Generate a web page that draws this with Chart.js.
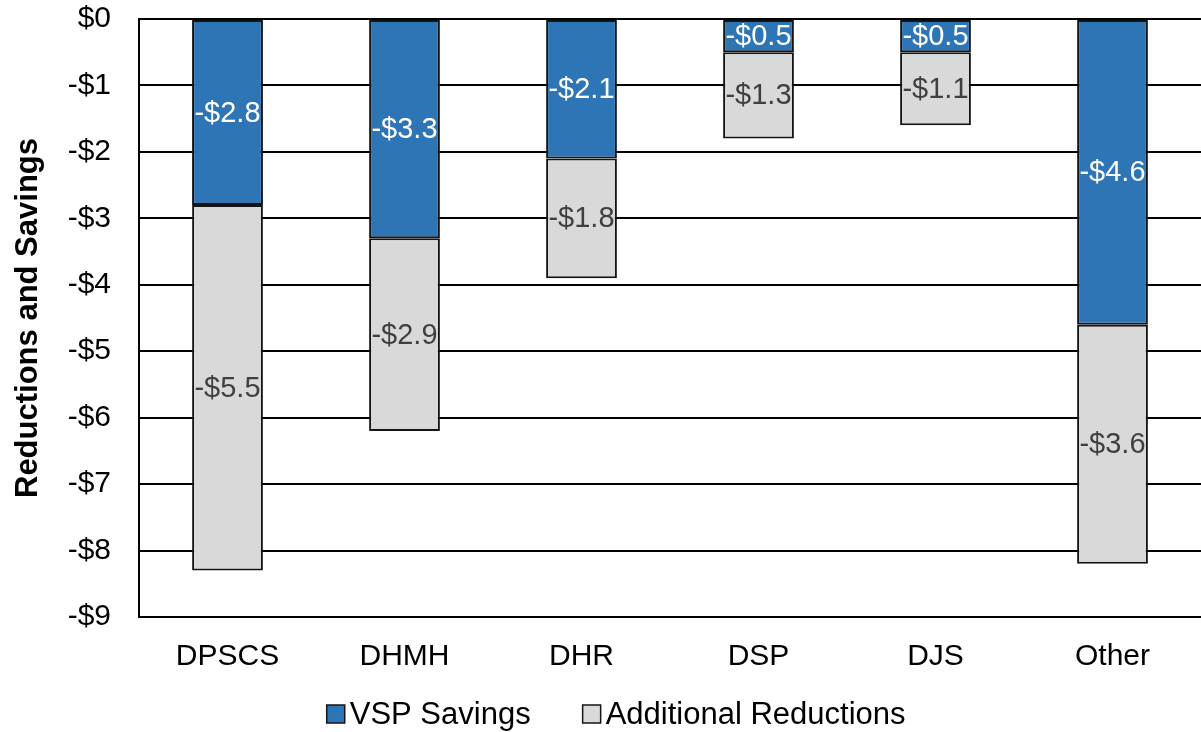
<!DOCTYPE html>
<html>
<head>
<meta charset="utf-8">
<script src="https://cdn.jsdelivr.net/npm/chart.js@4.4.1/dist/chart.umd.min.js"></script>
<style>
  html, body { margin: 0; padding: 0; background: #ffffff; }
  #wrap { width: 1201px; height: 732px; position: relative; }
</style>
</head>
<body>
<div id="wrap"><canvas id="chart" width="1201" height="732"></canvas></div>
<script>
// Agencies along the x axis
const categories = ['DPSCS', 'DHMH', 'DHR', 'DSP', 'DJS', 'Other'];
// Values in $ millions (negative = reduction)
const vspSavings = [-2.8, -3.3, -2.1, -0.5, -0.5, -4.6];
const additionalReductions = [-5.5, -2.9, -1.8, -1.3, -1.1, -3.6];
const seriesNames = ['VSP Savings', 'Additional Reductions'];
const yTickValues = [0, -1, -2, -3, -4, -5, -6, -7, -8, -9];
const yAxisTitle = 'Reductions and Savings';

const FONT = 'Arial, "Liberation Sans", sans-serif';
const BLUE = '#2E75B6';
const GREY = '#D9D9D9';
const EDGE = '#141414';

const money = v => (v === 0 ? '$0' : '-$' + Math.abs(v));
const moneyLabel = v => (v < 0 ? '-$' : '$') + Math.abs(v).toFixed(1);

// Writes each segment's value in the middle of the segment
const segmentLabels = {
  id: 'segmentLabels',
  afterDatasetsDraw(chart) {
    const ctx = chart.ctx;
    const colors = ['#ffffff', '#404040'];
    ctx.save();
    ctx.font = '29px ' + FONT;
    ctx.textAlign = 'center';
    ctx.textBaseline = 'middle';
    chart.data.datasets.forEach((ds, i) => {
      const meta = chart.getDatasetMeta(i);
      ctx.fillStyle = colors[i];
      meta.data.forEach((bar, j) => {
        const p = bar.getProps(['x', 'y', 'base'], true);
        ctx.fillText(moneyLabel(ds.data[j]), p.x, (p.y + p.base) / 2 + 1);
      });
    });
    ctx.restore();
  }
};

// Compact legend below the axis: small square swatch right next to its text
const swatchLegend = {
  id: 'swatchLegend',
  afterDraw(chart) {
    const ctx = chart.ctx;
    const box = 18, gapText = 5, gapItem = 52;
    ctx.save();
    ctx.font = '31px ' + FONT;
    const items = chart.data.datasets.map(ds => ({
      text: ds.label, fill: ds.backgroundColor, w: ctx.measureText(ds.label).width
    }));
    const total = items.reduce((s, it) => s + box + gapText + it.w, 0) + gapItem * (items.length - 1);
    let x = chart.width * 0.513 - total / 2;
    const cy = 714;
    ctx.textBaseline = 'middle';
    ctx.textAlign = 'left';
    items.forEach(it => {
      ctx.fillStyle = it.fill;
      ctx.fillRect(x, cy - box / 2, box, box);
      ctx.strokeStyle = EDGE;
      ctx.lineWidth = 1.5;
      ctx.strokeRect(x, cy - box / 2, box, box);
      ctx.fillStyle = '#000000';
      ctx.fillText(it.text, x + box + gapText, cy + 1);
      x += box + gapText + it.w + gapItem;
    });
    ctx.restore();
  }
};

new Chart(document.getElementById('chart'), {
  type: 'bar',
  data: {
    labels: categories,
    datasets: [
      {
        label: seriesNames[0], data: vspSavings,
        backgroundColor: BLUE, borderColor: EDGE, borderWidth: 2, borderSkipped: false,
        barPercentage: 0.4, categoryPercentage: 1.0
      },
      {
        label: seriesNames[1], data: additionalReductions,
        backgroundColor: GREY, borderColor: EDGE, borderWidth: 2, borderSkipped: false,
        barPercentage: 0.4, categoryPercentage: 1.0
      }
    ]
  },
  options: {
    responsive: false,
    devicePixelRatio: 1,
    animation: false,
    layout: { padding: { left: 0, right: 0, top: 0, bottom: 52 } },
    plugins: {
      legend: { display: false },
      tooltip: { enabled: false }
    },
    scales: {
      x: {
        stacked: true,
        grid: { display: false, drawTicks: false },
        border: { display: true, color: '#000000', width: 2 },
        ticks: { color: '#000000', font: { family: FONT, size: 30 }, padding: 22 },
        afterFit(scale) { scale.height = 63; }
      },
      y: {
        stacked: true,
        min: -9, max: 0,
        afterBuildTicks(scale) { scale.ticks = yTickValues.map(v => ({ value: v })); },
        grid: { color: '#000000', lineWidth: 2, drawTicks: false },
        border: { display: true, color: '#000000', width: 2 },
        ticks: { color: '#000000', font: { family: FONT, size: 30 }, padding: 28, callback: money },
        title: {
          display: true, text: yAxisTitle, color: '#000000',
          font: { family: FONT, size: 31, weight: 'bold', lineHeight: 1 },
          padding: { top: 13, bottom: 0 }
        },
        afterFit(scale) { scale.width = 139; scale.paddingTop = 19; }
      }
    }
  },
  plugins: [segmentLabels, swatchLegend]
});
</script>
</body>
</html>
